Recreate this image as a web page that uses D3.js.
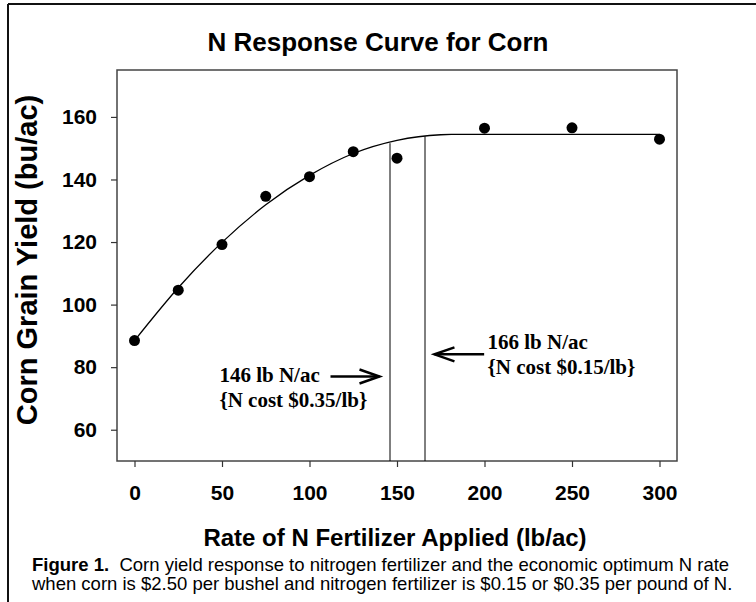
<!DOCTYPE html>
<html>
<head>
<meta charset="utf-8">
<script src="https://cdn.jsdelivr.net/npm/d3@7"></script>
<style>
  body { margin: 0; background: #fff; }
  svg { display: block; }
</style>
</head>
<body>
<script>
// observed yields
const rates = [0, 25, 50, 75, 100, 125, 150, 200, 250, 300];
const yields = [88.5, 104.6, 119.2, 134.6, 140.9, 148.9, 146.8, 156.4, 156.5, 152.9];

// fitted quadratic-plateau curve
const curveX = [0, 25, 50, 75, 100, 125, 150, 175, 181, 300];
const curveY = [88.5, 105.4, 119.9, 131.9, 141.3, 148.3, 152.5, 154.3, 154.4, 154.4];

// economic optimum N rates
const optRates = [146, 166];
const optYields = [151.6, 153.8];

const xTicks = [0, 50, 100, 150, 200, 250, 300];
const yTicks = [60, 80, 100, 120, 140, 160];

const width = 756, height = 602;
const plot = { left: 117, top: 70, right: 677, bottom: 461 };

const svg = d3.select("body").append("svg")
    .attr("width", width)
    .attr("height", height);

// outer frame (only top and left edges show)
svg.append("line").attr("x1", 8).attr("y1", 4).attr("x2", width).attr("y2", 4)
    .attr("stroke", "#111").attr("stroke-width", 2);
svg.append("line").attr("x1", 8).attr("y1", 4).attr("x2", 8).attr("y2", height)
    .attr("stroke", "#111").attr("stroke-width", 2);

const x = d3.scaleLinear().domain([-10, 310]).range([plot.left, plot.right]);
const y = d3.scaleLinear().domain([50, 175]).range([plot.bottom, plot.top]);

// title
svg.append("text")
    .attr("x", 378).attr("y", 51)
    .attr("text-anchor", "middle")
    .style("font-family", "Arial, 'Liberation Sans', sans-serif")
    .style("font-weight", "bold")
    .style("font-size", "26px")
    .text("N Response Curve for Corn");

// plot box
svg.append("rect")
    .attr("x", plot.left).attr("y", plot.top)
    .attr("width", plot.right - plot.left).attr("height", plot.bottom - plot.top)
    .attr("fill", "none").attr("stroke", "#444").attr("stroke-width", 1.5);

// axes
const xAxis = svg.append("g")
    .attr("transform", `translate(0,${plot.bottom})`)
    .call(d3.axisBottom(x).tickValues(xTicks).tickSizeOuter(0).tickSize(6).tickPadding(18));
const yAxis = svg.append("g")
    .attr("transform", `translate(${plot.left},0)`)
    .call(d3.axisLeft(y).tickValues(yTicks).tickSizeOuter(0).tickSize(6).tickPadding(14));

[xAxis, yAxis].forEach(g => {
    g.select(".domain").remove();
    g.selectAll(".tick line").attr("stroke", "#333").attr("stroke-width", 1.2);
    g.selectAll(".tick text")
        .style("font-family", "Arial, 'Liberation Sans', sans-serif")
        .style("font-weight", "bold")
        .style("font-size", "21px")
        .attr("fill", "#000");
});

// axis titles
svg.append("text")
    .attr("x", 395).attr("y", 546)
    .attr("text-anchor", "middle")
    .style("font-family", "Arial, 'Liberation Sans', sans-serif")
    .style("font-weight", "bold")
    .style("font-size", "24px")
    .text("Rate of N Fertilizer Applied (lb/ac)");

svg.append("text")
    .attr("transform", "translate(37,260) rotate(-90)")
    .attr("text-anchor", "middle")
    .style("font-family", "Arial, 'Liberation Sans', sans-serif")
    .style("font-weight", "bold")
    .style("font-size", "29px")
    .text("Corn Grain Yield (bu/ac)");

// optimum rate lines
svg.append("g").selectAll("line")
    .data(optRates)
    .join("line")
    .attr("x1", d => x(d)).attr("x2", d => x(d))
    .attr("y1", plot.bottom)
    .attr("y2", (d, i) => y(optYields[i]))
    .attr("stroke", "#000").attr("stroke-width", 1);

// fitted curve
const line = d3.line()
    .x((d, i) => x(curveX[i]))
    .y(d => y(d))
    .curve(d3.curveMonotoneX);
svg.append("path")
    .datum(curveY)
    .attr("d", line)
    .attr("fill", "none")
    .attr("stroke", "#000")
    .attr("stroke-width", 1.3);

// observed points
svg.append("g").selectAll("circle")
    .data(rates)
    .join("circle")
    .attr("cx", d => x(d))
    .attr("cy", (d, i) => y(yields[i]))
    .attr("r", 5.5)
    .attr("fill", "#000");

// annotations
const notes = [
    { lines: ["146 lb N/ac", "{N cost $0.35/lb}"], x: 48.5, y: [75.1, 67.4], arrow: [112, 140, 77] },
    { lines: ["166 lb N/ac", "{N cost $0.15/lb}"], x: 201.7, y: [85.7, 77.7], arrow: [199.8, 171.4, 84.1] }
];

notes.forEach(n => {
    n.lines.forEach((t, i) => {
        svg.append("text")
            .attr("x", x(n.x)).attr("y", y(n.y[i]))
            .style("font-family", "'Liberation Serif', 'Times New Roman', serif")
            .style("font-weight", "bold")
            .style("font-size", "21px")
            .text(t);
    });
    const x0 = x(n.arrow[0]), x1 = x(n.arrow[1]), ay = y(n.arrow[2]);
    const dir = x1 > x0 ? 1 : -1;
    svg.append("line")
        .attr("x1", x0).attr("y1", ay).attr("x2", x1).attr("y2", ay)
        .attr("stroke", "#000").attr("stroke-width", 2.5);
    svg.append("path")
        .attr("d", `M${x1 - dir * 20},${ay - 7}L${x1},${ay}L${x1 - dir * 20},${ay + 7}`)
        .attr("fill", "none").attr("stroke", "#000").attr("stroke-width", 2.5);
});

// caption
const cap = svg.append("g")
    .style("font-family", "Arial, 'Liberation Sans', sans-serif")
    .style("font-size", "18.5px");
const c1 = cap.append("text").attr("x", 32).attr("y", 571);
c1.append("tspan").style("font-weight", "bold").text("Figure 1.");
c1.append("tspan").text("\u00a0 Corn yield response to nitrogen fertilizer and the economic optimum N rate");
cap.append("text").attr("x", 32).attr("y", 590)
    .text("when corn is $2.50 per bushel and nitrogen fertilizer is $0.15 or $0.35 per pound of N.");
</script>
</body>
</html>
